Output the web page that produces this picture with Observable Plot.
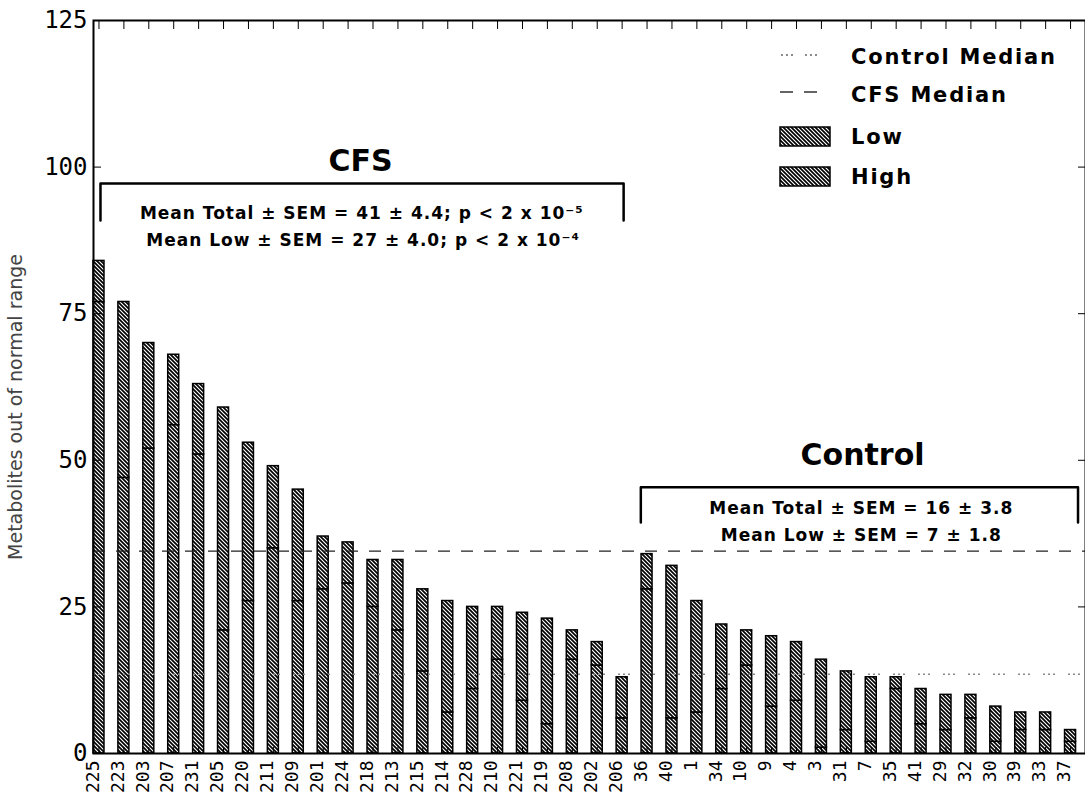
<!DOCTYPE html>
<html><head><meta charset="utf-8">
<script src="https://cdn.jsdelivr.net/npm/d3@7"></script>
<script src="https://cdn.jsdelivr.net/npm/@observablehq/plot@0.6"></script>
<style>
body{margin:0;background:#fff;}
#chart{position:relative;width:1085px;height:805px;}
</style></head><body>
<svg width="0" height="0" style="position:absolute">
<defs>
<pattern id="hatch" patternUnits="userSpaceOnUse" width="4" height="4">
<rect width="4" height="4" fill="#fff"/>
<path d="M-1,-1L5,5M-1,3L1,5M3,-1L5,1" stroke="#000" stroke-width="1.7"/>
</pattern></defs></svg>
<div id="chart"></div>
<script>
// ---- data ----
const cfsIds   = ["225","223","203","207","231","205","220","211","209","201","224","218","213","215","214","228","210","221","219","208","202","206"];
const cfsTotal = [84,77,70,68,63,59,53,49,45,37,36,33,33,28,26,25,25,24,23,21,19,13];
const cfsLow   = [77,47,52,56,51,21,26,35,26,28,29,25,21,14,7,11,16,9,5,16,15,6];
const ctlIds   = ["36","40","1","34","10","9","4","3","31","7","35","41","29","32","30","39","33","37"];
const ctlTotal = [34,32,26,22,21,20,19,16,14,13,13,11,10,10,8,7,7,4];
const ctlLow   = [28,6,7,11,15,8,9,1,4,2,11,5,4,6,2,4,4,2];
const yTicks   = [0,25,50,75,100,125];
const yTitle   = "Metabolites out of normal range";
const groupLabels = [
  {text:"CFS", x:10.5, y:101},
  {text:"Control", x:30.65, y:50.8}
];
const statLines = [
  {text:"Mean Total \u00b1 SEM = 41 \u00b1 4.4; p < 2 x 10\u207b\u2075", x:10.55, y:92.1},
  {text:"Mean Low \u00b1 SEM = 27 \u00b1 4.0; p < 2 x 10\u207b\u2074", x:10.6, y:87.5},
  {text:"Mean Total \u00b1 SEM = 16 \u00b1 3.8", x:30.6, y:41.8},
  {text:"Mean Low \u00b1 SEM = 7 \u00b1 1.8", x:30.6, y:37.2}
];
const brackets = [
  {group:"CFS", x1:0.06, x2:21.06, top:97.2, bottom:90.9},
  {group:"Control", x1:21.75, x2:39.3, top:45.4, bottom:39.4}
];

// ---- derived tables ----
const ids = cfsIds.concat(ctlIds);
const totals = cfsTotal.concat(ctlTotal);
const lows = cfsLow.concat(ctlLow);
const parts = ids.flatMap((id, i) => [
  {i, id, part:"Low", y1:0, y2:lows[i]},
  {i, id, part:"High", y1:lows[i], y2:totals[i]}
]);
const cfsMedian = d3.median(cfsTotal);
const ctlMedian = d3.median(ctlTotal);
const bracketPts = brackets.flatMap(b => [
  {group:b.group, x:b.x1, y:b.bottom},
  {group:b.group, x:b.x1, y:b.top},
  {group:b.group, x:b.x2, y:b.top},
  {group:b.group, x:b.x2, y:b.bottom}
]);
const idx = d3.range(ids.length);

const plot = Plot.plot({
  width:1085, height:805,
  marginLeft:93, marginRight:0, marginTop:20, marginBottom:52,
  style:{fontFamily:"DejaVu Sans Mono", background:"#fff", color:"#000"},
  x:{type:"linear", domain:[-0.22, 39.6]},
  y:{domain:[0,125]},
  marks:[
    Plot.rectY(parts, {x1:"i", x2:"i", y1:"y1", y2:"y2", insetLeft:-5.5, insetRight:-5.5,
      fill:"url(#hatch)", stroke:"#000", strokeWidth:1.5}),
    Plot.ruleY([cfsMedian], {stroke:"#222", strokeWidth:1.2, strokeDasharray:"12,11"}),
    Plot.ruleY([ctlMedian], {stroke:"#888", strokeWidth:1.5, strokeDasharray:"2,3,2,3,2,13"}),
    Plot.frame({stroke:"#000", strokeWidth:2}),
    // inward ticks
    Plot.axisY({ticks:yTicks, anchor:"left", tickSize:8, dx:8, tickFormat:()=>"", label:null}),
    Plot.axisY({ticks:yTicks, anchor:"right", tickSize:8, dx:-8, tickFormat:()=>"", label:null}),
    Plot.axisX({ticks:idx, anchor:"top", tickSize:8, dy:8, tickFormat:()=>"", label:null}),
    Plot.axisX({ticks:idx, anchor:"bottom", tickSize:6, dy:-6, tickFormat:()=>"", label:null}),
    // tick labels
    Plot.axisY({ticks:yTicks, anchor:"left", tickSize:0, tickPadding:6, fontSize:24, label:null}),
    Plot.axisX({ticks:idx, anchor:"bottom", tickSize:0, tickPadding:7, tickRotate:-90, dx:-6,
      fontSize:18, tickFormat:i => ids[i], label:null}),
    Plot.text([yTitle], {frameAnchor:"left", textAnchor:"middle", rotate:-90, dx:-78, dy:20, fontSize:19,
      fontFamily:"DejaVu Sans", fill:"#444"}),
    // annotations
    Plot.line(bracketPts, {x:"x", y:"y", z:"group", stroke:"#000", strokeWidth:2.5, strokeLinejoin:"round"}),
    Plot.text(groupLabels, {x:"x", y:"y", text:"text", fontSize:30, fontWeight:"bold", fontFamily:"DejaVu Sans"}),
    Plot.text(statLines, {x:"x", y:"y", text:"text", fontSize:17, fontWeight:"bold", fontFamily:"DejaVu Sans"})
  ]
});
document.getElementById("chart").appendChild(plot);

// letter spacing for the statistic lines (last text mark)
const textGroups = plot.querySelectorAll('g[aria-label="text"]');
if (textGroups.length) textGroups[textGroups.length - 1].setAttribute("letter-spacing", "1px");

// ---- legend ----
const svg = d3.select(plot);
const lg = svg.append("g").attr("font-family","DejaVu Sans").attr("font-weight","bold")
  .attr("font-size",21).attr("letter-spacing","1.8px").attr("text-anchor","start");
const legendItems = [
  {label:"Control Median", kind:"ctl", y:57},
  {label:"CFS Median", kind:"cfs", y:95},
  {label:"Low", kind:"box", y:137},
  {label:"High", kind:"box", y:177}
];
legendItems.forEach(it => {
  if (it.kind === "ctl") {
    lg.append("line").attr("x1",781).attr("x2",822).attr("y1",it.y-2).attr("y2",it.y-2)
      .attr("stroke","#666").attr("stroke-width",1.3).attr("stroke-dasharray","2,3,2,3,2,12");
  } else if (it.kind === "cfs") {
    lg.append("line").attr("x1",780).attr("x2",822).attr("y1",it.y-3).attr("y2",it.y-3)
      .attr("stroke","#333").attr("stroke-width",1.3).attr("stroke-dasharray","13,11");
  } else {
    lg.append("rect").attr("x",780).attr("y",it.y-10).attr("width",50).attr("height",19)
      .attr("fill","url(#hatch)").attr("stroke","#000").attr("stroke-width",1.5);
  }
  lg.append("text").attr("x",851).attr("y",it.y).attr("dominant-baseline","central")
    .attr("fill","#000").text(it.label);
});
</script>
</body></html>
